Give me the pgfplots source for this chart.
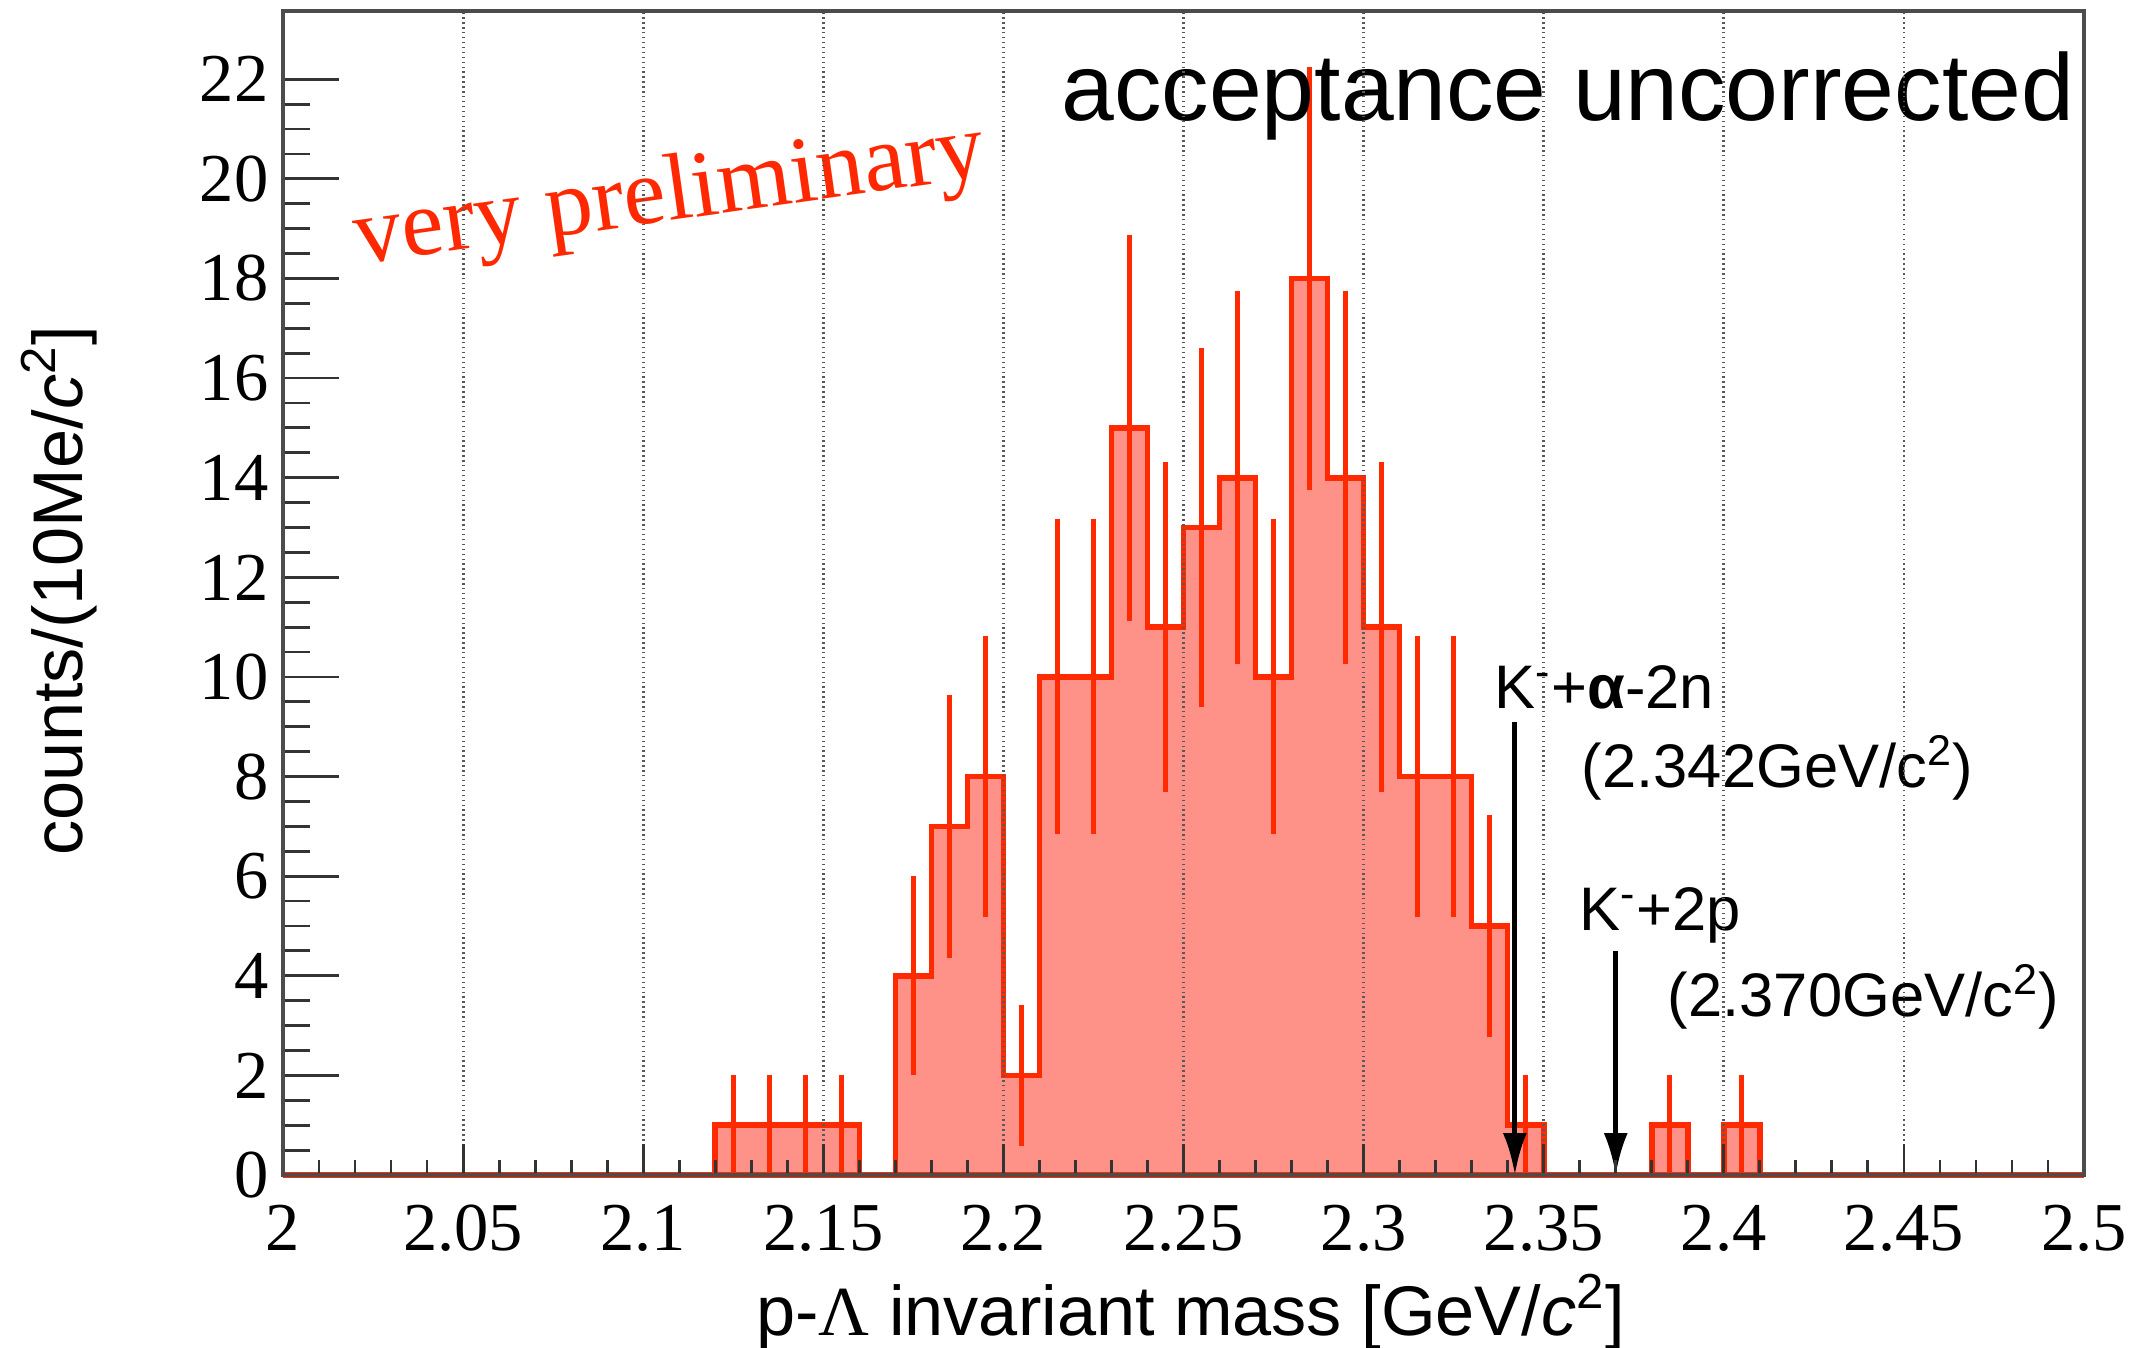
\documentclass[border=0pt]{standalone}
\usepackage{fontspec}
\setmainfont{Liberation Serif}
\newfontfamily\hv{Liberation Sans}
\usepackage{pgfplots}
\pgfplotsset{compat=1.18}
\usepackage{pgfplotstable}
\usetikzlibrary{arrows.meta}
\definecolor{histline}{RGB}{255,42,0}
\definecolor{histfill}{RGB}{255,146,136}
\definecolor{prelim}{RGB}{255,40,0}

\pgfplotstableread{
x     y
2.00  0
2.01  0
2.02  0
2.03  0
2.04  0
2.05  0
2.06  0
2.07  0
2.08  0
2.09  0
2.10  0
2.11  0
2.12  1
2.13  1
2.14  1
2.15  1
2.16  0
2.17  4
2.18  7
2.19  8
2.20  2
2.21  10
2.22  10
2.23  15
2.24  11
2.25  13
2.26  14
2.27  10
2.28  18
2.29  14
2.30  11
2.31  8
2.32  8
2.33  5
2.34  1
2.35  0
2.36  0
2.37  0
2.38  1
2.39  0
2.40  1
2.41  0
2.42  0
2.43  0
2.44  0
2.45  0
2.46  0
2.47  0
2.48  0
2.49  0
2.50  0
}\histdata

\pgfplotstableread{
x      y    e
2.125  1    1
2.135  1    1
2.145  1    1
2.155  1    1
2.175  4    2
2.185  7    2.6458
2.195  8    2.8284
2.205  2    1.4142
2.215  10   3.1623
2.225  10   3.1623
2.235  15   3.8730
2.245  11   3.3166
2.255  13   3.6056
2.265  14   3.7417
2.275  10   3.1623
2.285  18   4.2426
2.295  14   3.7417
2.305  11   3.3166
2.315  8    2.8284
2.325  8    2.8284
2.335  5    2.2361
2.345  1    1
2.385  1    1
2.405  1    1
}\errdata

\begin{document}
\begin{tikzpicture}
\useasboundingbox (-2.83cm,-1.72cm) rectangle (18.60cm,11.75cm);
\begin{axis}[
  at={(0,0)}, anchor=south west,
  scale only axis,
  width=18.01cm, height=11.64cm,
  xmin=2, xmax=2.5, ymin=0, ymax=23.37,
  xtick={2,2.05,...,2.5},
  xticklabels={2,2.05,2.1,2.15,2.2,2.25,2.3,2.35,2.4,2.45,2.5},
  ytick={0,2,...,22},
  minor x tick num=4,
  minor y tick num=3,
  tick align=inside,
  xtick pos=bottom, ytick pos=left,
  major tick length=0.56cm,
  minor tick length=0.27cm,
  xtick style={/pgfplots/major tick length=0.31cm},
  minor x tick style={/pgfplots/minor tick length=0.15cm},
  tick style={black!80, line width=0.8pt},
  xmajorgrids,
  grid style={densely dotted, black!65, line width=0.8pt},
  axis line style={black!70, line width=0.9pt},
  axis on top,
  /pgf/number format/assume math mode=true,
  ticklabel style={font=\fontsize{19.5pt}{22pt}\selectfont},
  xticklabel style={anchor=center, yshift=-0.53cm, inner sep=0pt},
  yticklabel style={anchor=east, xshift=-0.14cm, inner sep=0pt},
  xlabel={p-{\rmfamily Λ} invariant mass [GeV/\textit{c}\textsuperscript{2}]},
  ylabel={counts/(10Me/\textit{c}\textsuperscript{2}]},
  every axis x label/.style={at={(axis description cs:0.504,-0.1177)}, anchor=center, font=\hv\fontsize{20pt}{24pt}\selectfont},
  every axis y label/.style={at={(axis description cs:-0.1244,0.502)}, anchor=center, rotate=90, font=\hv\fontsize{20pt}{24pt}\selectfont},
  clip=false,
]
\addplot[const plot, draw=histline, line width=1.6pt, fill=histfill] table[x=x,y=y]{\histdata} \closedcycle;
\addplot[draw=none, mark=none, forget plot,
  error bars/.cd, y dir=both, y explicit,
  error mark=none,
  error bar style={histline, line width=1.4pt}]
  table[x=x, y=y, y error=e]{\errdata};

\draw[-{Latex[length=0.42cm,width=0.24cm]}, line width=1.4pt, black] (axis cs:2.342,9.1) -- (axis cs:2.342,0);
\draw[-{Latex[length=0.42cm,width=0.24cm]}, line width=1.4pt, black] (axis cs:2.370,4.5) -- (axis cs:2.370,0);

\node[anchor=west, inner sep=0pt, font=\hv\fontsize{17.5pt}{21pt}\selectfont] at (axis cs:2.3361,9.79) {K\textsuperscript{-}+\textbf{α}-2n};
\node[anchor=west, inner sep=0pt, font=\hv\fontsize{17.5pt}{21pt}\selectfont] at (axis cs:2.3604,8.18) {(2.342GeV/c\textsuperscript{2})};
\node[anchor=west, inner sep=0pt, font=\hv\fontsize{17.5pt}{21pt}\selectfont] at (axis cs:2.3597,5.21) {K\textsuperscript{-}+2p};
\node[anchor=west, inner sep=0pt, font=\hv\fontsize{17.5pt}{21pt}\selectfont] at (axis cs:2.3843,3.57) {(2.370GeV/c\textsuperscript{2})};

\node[anchor=east, inner sep=0pt, font=\hv\fontsize{27pt}{32pt}\selectfont] at (axis cs:2.4975,21.66) {acceptance uncorrected};
\node[inner sep=0pt, rotate=8, text=prelim, font=\fontsize{27pt}{32pt}\selectfont] at (axis cs:2.1074,19.62) {very preliminary};
\end{axis}
\end{tikzpicture}
\end{document}
